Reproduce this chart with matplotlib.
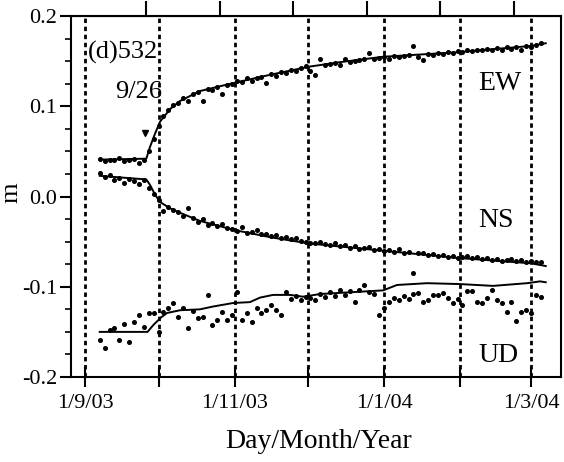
import numpy as np
import matplotlib
matplotlib.use("Agg")
import matplotlib.pyplot as plt

plt.rcParams['font.family'] = ['Liberation Serif', 'DejaVu Serif']

# days counted from 1 Sep 2003
obs_days = np.arange(6, 188, 2)

ew_obs = [0.042, 0.039, 0.041, 0.040, 0.043, 0.039, 0.041, 0.042, 0.037, 0.040,
          0.050, 0.064, 0.078, 0.089, 0.096, 0.101, 0.104, 0.109, 0.106, 0.114,
          0.116, 0.106, 0.119, 0.118, 0.121, 0.114, 0.124, 0.125, 0.128, 0.127,
          0.131, 0.128, 0.131, 0.133, 0.126, 0.136, 0.134, 0.138, 0.137, 0.140,
          0.139, 0.142, 0.145, 0.139, 0.135, 0.153, 0.146, 0.147, 0.148, 0.146,
          0.153, 0.149, 0.150, 0.151, 0.152, 0.159, 0.152, 0.154, 0.155, 0.153,
          0.156, 0.155, 0.156, 0.157, 0.167, 0.155, 0.151, 0.158, 0.157, 0.159,
          0.158, 0.160, 0.159, 0.161, 0.160, 0.162, 0.161, 0.163, 0.162, 0.164,
          0.163, 0.165, 0.162, 0.166, 0.164, 0.166, 0.163, 0.167, 0.166, 0.168,
          0.170]

ns_obs = [0.026, 0.022, 0.024, 0.018, 0.021, 0.015, 0.019, 0.017, 0.014, 0.018,
          0.010, 0.003, -0.004, -0.016, -0.011, -0.015, -0.017, -0.021, -0.013, -0.024,
          -0.028, -0.025, -0.031, -0.029, -0.033, -0.030, -0.035, -0.036, -0.038, -0.034,
          -0.040, -0.039, -0.037, -0.042, -0.041, -0.044, -0.043, -0.046, -0.045, -0.047,
          -0.046, -0.049, -0.050, -0.052, -0.051, -0.050, -0.053, -0.054, -0.052, -0.055,
          -0.054, -0.057, -0.055, -0.058, -0.057, -0.056, -0.059, -0.058, -0.060, -0.059,
          -0.061, -0.058, -0.062, -0.061, -0.085, -0.063, -0.062, -0.065, -0.064, -0.066,
          -0.065, -0.067, -0.066, -0.068, -0.067, -0.066, -0.068, -0.067, -0.069, -0.068,
          -0.070, -0.069, -0.071, -0.070, -0.069, -0.071, -0.070, -0.072, -0.071, -0.073,
          -0.072]

ud_obs = [-0.159, -0.168, -0.148, -0.146, -0.159, -0.141, -0.161, -0.139, -0.131, -0.145,
          -0.129, -0.129, -0.150, -0.128, -0.124, -0.118, -0.133, -0.124, -0.146, -0.127,
          -0.135, -0.133, -0.109, -0.142, -0.137, -0.128, -0.137, -0.131, -0.106, -0.137,
          -0.129, -0.139, -0.124, -0.129, -0.126, -0.120, -0.126, -0.131, -0.106, -0.113,
          -0.110, -0.115, -0.111, -0.112, -0.115, -0.108, -0.111, -0.106, -0.110, -0.104,
          -0.109, -0.105, -0.117, -0.104, -0.098, -0.106, -0.108, -0.131, -0.124, -0.117,
          -0.112, -0.115, -0.110, -0.113, -0.108, -0.107, -0.117, -0.115, -0.109, -0.109,
          -0.107, -0.112, -0.118, -0.114, -0.120, -0.105, -0.105, -0.117, -0.118, -0.112,
          -0.104, -0.115, -0.118, -0.128, -0.117, -0.138, -0.128, -0.126, -0.129, -0.109,
          -0.111]

# model curves
ew_fit_days = [6, 25, 26.5, 28.6, 30.6, 34.7, 38.8, 46.9, 60.8, 75.5, 91.4, 104, 121.6, 152, 169, 182, 188]
ew_fit = [0.041, 0.042, 0.055, 0.070, 0.083, 0.097, 0.106, 0.117, 0.126, 0.135, 0.144,
          0.149, 0.155, 0.160, 0.164, 0.167, 0.170]

ns_fit_days = [6, 25, 26.5, 28.6, 30.6, 34.7, 38.8, 46.9, 60.8, 75.5, 91.4, 121.6, 152, 182, 188]
ns_fit = [0.023, 0.019, 0.013, 0.002, -0.006, -0.013, -0.018, -0.027, -0.037, -0.045,
          -0.052, -0.060, -0.068, -0.074, -0.077]

ud_fit_days = [6, 25.5, 28, 31, 33.5, 38.8, 46.9, 52, 60.4, 67.3, 71.4, 76.7, 83.7, 89, 96,
               121.6, 127.3, 139.6, 153, 166.5, 180.4, 185.7, 188]
ud_fit = [-0.150, -0.150, -0.142, -0.134, -0.129, -0.126, -0.125, -0.122, -0.118, -0.117,
          -0.112, -0.109, -0.109, -0.111, -0.108, -0.104, -0.098, -0.096, -0.097, -0.099,
          -0.096, -0.094, -0.095]

month_days = [0, 30, 61, 91, 122, 153, 182]
month_labels = ['1/9/03', '', '1/11/03', '', '1/1/04', '', '1/3/04']
top_ticks = [25, 55, 85, 115, 145, 175]

fig = plt.figure(figsize=(5.64, 4.62), dpi=100)
ax = fig.add_axes([0.126, 0.184, 0.869, 0.781])

for d in month_days:
    ax.axvline(d, color='black', lw=2, ls=(0, (1.6, 1.3)), zorder=1)

for obs, fd, fv in [(ew_obs, ew_fit_days, ew_fit), (ns_obs, ns_fit_days, ns_fit),
                    (ud_obs, ud_fit_days, ud_fit)]:
    ax.plot(obs_days, obs, 'o', color='black', ms=2.6, zorder=2)
    ax.plot(fd, fv, '-', color='black', lw=1.4, zorder=3)

ax.plot([24.3], [0.071], marker='v', color='black', ms=5)

ax.set_xlim(-5.7, 194.3)
ax.set_ylim(-0.2, 0.2)
ax.set_xticks(month_days)
ax.set_xticklabels(month_labels)
ax.set_yticks([-0.2, -0.1, 0.0, 0.1, 0.2])
ax.set_yticklabels(['-0.2', '-0.1', '0.0', '0.1', '0.2'])
ax.set_yticks(np.arange(-0.2, 0.201, 0.025), minor=True)

ax.tick_params(axis='x', direction='inout', length=14, width=1.5, labelsize=16, pad=5)
ax.tick_params(axis='y', which='major', direction='out', length=8, width=1.5, labelsize=16, pad=2)
ax.tick_params(axis='y', which='minor', direction='out', length=4, width=1.2)
for s in ax.spines.values():
    s.set_linewidth(1.5)

top = ax.secondary_xaxis('top')
top.set_xticks(top_ticks)
top.set_xticklabels([])
top.tick_params(direction='out', length=11, width=1.5)

ax.text(1.2, 0.153, '(d)532', fontsize=19, va='baseline')
ax.text(12.2, 0.109, '9/26', fontsize=19, va='baseline')
ax.text(160.4, 0.118, 'EW', fontsize=20, va='baseline')
ax.text(160.4, -0.034, 'NS', fontsize=20, va='baseline')
ax.text(160.4, -0.183, 'UD', fontsize=20, va='baseline')

ax.set_ylabel('m', fontsize=19)
ax.yaxis.set_label_coords(-0.10, 0.51)
ax.set_xlabel('Day/Month/Year', fontsize=20)
ax.xaxis.set_label_coords(0.505, -0.145)

fig.savefig('out.png', dpi=100)
